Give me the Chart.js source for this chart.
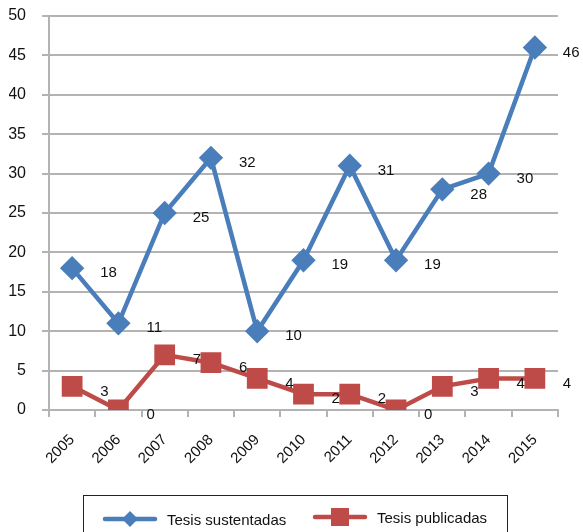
<!DOCTYPE html>
<html>
<head>
<meta charset="utf-8">
<script src="https://cdn.jsdelivr.net/npm/chart.js@4/dist/chart.umd.min.js"></script>
<style>
  body { margin: 0; background: #fff; }
  #wrap { position: relative; width: 583px; height: 532px; }
  #legend {
    position: absolute; left: 83px; top: 495px; width: 423px; height: 50px;
    border: 1.5px solid #222; font: 15px "Liberation Sans", Arial, sans-serif; color: #111;
  }
  .item { position: absolute; top: 13px; display: flex; align-items: center; }
  .item canvas { margin-right: 9px; }
</style>
</head>
<body>
<div id="wrap">
  <canvas id="chart" width="583" height="532"></canvas>
  <div id="legend">
    <div class="item" style="left:18px"><canvas id="icon1" width="56" height="20"></canvas>Tesis sustentadas</div>
    <div class="item" style="left:228px;top:10px"><canvas id="icon2" width="56" height="22"></canvas>Tesis publicadas</div>
  </div>
</div>
<script>
const years = ['2005', '2006', '2007', '2008', '2009', '2010', '2011', '2012', '2013', '2014', '2015'];
const sustentadas = [18, 11, 25, 32, 10, 19, 31, 19, 28, 30, 46];
const publicadas = [3, 0, 7, 6, 4, 2, 2, 0, 3, 4, 4];

const blue = '#4a7ebb';
const red = '#be4b48';

// value labels to the right of each point
const pointLabels = {
    id: 'pointLabels',
    afterDatasetsDraw(chart) {
        const ctx = chart.ctx;
        ctx.save();
        ctx.font = '15px "Liberation Sans", Arial, sans-serif';
        ctx.fillStyle = '#111';
        ctx.textAlign = 'left';
        ctx.textBaseline = 'middle';
        chart.data.datasets.forEach((ds, i) => {
            chart.getDatasetMeta(i).data.forEach((pt, j) => {
                ctx.fillText(String(ds.data[j]), pt.x + 28, pt.y + 5);
            });
        });
        ctx.restore();
    }
};

new Chart(document.getElementById('chart'), {
    type: 'line',
    data: {
        labels: years,
        datasets: [
            { label: 'Tesis sustentadas', data: sustentadas, borderColor: blue, backgroundColor: blue,
              borderWidth: 4.5, pointStyle: 'rectRot', pointRadius: 9, pointHoverRadius: 9, tension: 0 },
            { label: 'Tesis publicadas', data: publicadas, borderColor: red, backgroundColor: red,
              borderWidth: 4.5, pointStyle: 'rect', pointRadius: 11.5, pointHoverRadius: 11.5, tension: 0 }
        ]
    },
    options: {
        responsive: false,
        animation: false,
        layout: { padding: { left: 9, right: 25, top: 15, bottom: 62 } },
        plugins: { legend: { display: false }, tooltip: { enabled: false } },
        scales: {
            x: {
                offset: true,
                grid: { offset: true, drawOnChartArea: false, drawTicks: true, tickLength: 7, color: '#b3b3b3', lineWidth: 2 },
                border: { color: '#b3b3b3', width: 2 },
                ticks: { minRotation: 45, maxRotation: 45, padding: 14, color: '#111',
                         font: { family: '"Liberation Sans", Arial, sans-serif', size: 15 } },
                afterFit(scale) { scale.height = 60; scale.paddingTop = 0; scale.paddingLeft = 0; scale.paddingRight = 0; }
            },
            y: {
                min: 0, max: 50,
                ticks: { stepSize: 5, padding: 16, color: '#111',
                         font: { family: '"Liberation Sans", Arial, sans-serif', size: 16 } },
                grid: { color: '#b3b3b3', lineWidth: 2, tickLength: 7 },
                border: { color: '#b3b3b3', width: 2 },
                afterFit(scale) { scale.width = 40; scale.paddingTop = 0; scale.paddingBottom = 0; }
            }
        }
    },
    plugins: [pointLabels]
});

// legend icons: line with marker
function icon(id, color, shape) {
    const c = document.getElementById(id);
    const ctx = c.getContext('2d');
    const cy = c.height / 2;
    ctx.strokeStyle = color;
    ctx.fillStyle = color;
    ctx.lineWidth = 4.5;
    ctx.lineCap = 'round';
    ctx.beginPath(); ctx.moveTo(3, cy); ctx.lineTo(c.width - 3, cy); ctx.stroke();
    const cx = c.width / 2;
    ctx.beginPath();
    if (shape === 'diamond') {
        ctx.moveTo(cx, cy - 8); ctx.lineTo(cx + 8, cy); ctx.lineTo(cx, cy + 8); ctx.lineTo(cx - 8, cy);
    } else {
        ctx.rect(cx - 9, cy - 9, 18, 18);
    }
    ctx.fill();
}
icon('icon1', blue, 'diamond');
icon('icon2', red, 'square');
</script>
</body>
</html>
